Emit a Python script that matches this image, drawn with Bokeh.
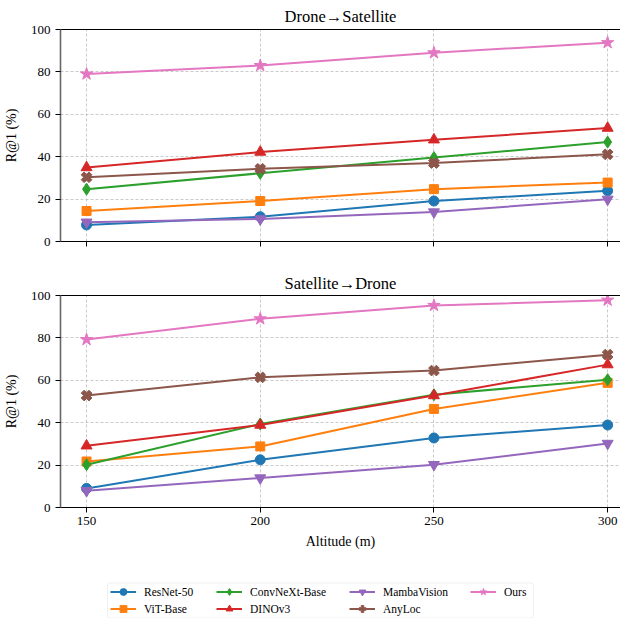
import numpy as np
from bokeh.plotting import figure
from bokeh.models import (Legend, LegendItem, Range1d, BoxAnnotation,
                          LinearAxis, FixedTicker)
from bokeh.layouts import column
from bokeh.embed import file_html
from bokeh.resources import INLINE

# ---------------- data ----------------
altitudes = [150, 200, 250, 300]
methods = ["ResNet-50", "ViT-Base", "ConvNeXt-Base", "DINOv3", "MambaVision", "AnyLoc", "Ours"]
y_ticks = [0, 20, 40, 60, 80, 100]

# Drone -> Satellite, R@1 (%)
d2s_resnet50 = [7.8, 11.7, 19.1, 23.9]
d2s_vit_base = [14.4, 19.1, 24.7, 27.8]
d2s_convnext = [24.7, 32.2, 39.6, 46.9]
d2s_dinov3 = [34.9, 42.2, 48.0, 53.5]
d2s_mambavision = [9.1, 10.6, 13.9, 19.9]
d2s_anyloc = [30.3, 34.3, 37.0, 41.1]
d2s_ours = [79.0, 83.0, 89.0, 93.8]

# Satellite -> Drone, R@1 (%)
s2d_resnet50 = [9.0, 22.5, 32.8, 38.9]
s2d_vit_base = [21.7, 28.8, 46.5, 58.8]
s2d_convnext = [20.2, 39.4, 53.2, 60.3]
s2d_dinov3 = [29.1, 38.9, 52.8, 67.4]
s2d_mambavision = [7.9, 13.9, 20.2, 30.2]
s2d_anyloc = [52.8, 61.4, 64.6, 72.1]
s2d_ours = [79.2, 89.0, 95.3, 97.8]

d2s = [d2s_resnet50, d2s_vit_base, d2s_convnext, d2s_dinov3, d2s_mambavision, d2s_anyloc, d2s_ours]
s2d = [s2d_resnet50, s2d_vit_base, s2d_convnext, s2d_dinov3, s2d_mambavision, s2d_anyloc, s2d_ours]

# ---------------- style ----------------
FONT = "Liberation Serif"
colors = ["#1f77b4", "#ff7f0e", "#2ca02c", "#d62728", "#9467bd", "#8c564b", "#e377c2"]
markers = ["circle", "square", "diamond", "triangle", "inverted_triangle", "plus", "star"]
sizes = [10, 9, 12, 11, 11, 11, 13]
angles = [0, 0, 0, 0, 0, np.pi / 4, 0]


def make_fig(title, series, show_xlabels, top_border, bottom_border, standoff):
    p = figure(frame_width=560, frame_height=212,
               x_range=Range1d(142.5, 303.7), y_range=Range1d(0, 100),
               output_backend="svg", toolbar_location=None,
               min_border_left=54, min_border_right=0,
               min_border_top=top_border, min_border_bottom=bottom_border)
    p.title.text = title
    p.title.align = "center"
    p.title.text_font = FONT
    p.title.text_font_size = "16.5px"
    p.title.text_font_style = "normal"
    p.title.text_color = "black"
    p.title.standoff = standoff
    p.outline_line_color = None
    p.background_fill_color = "white"
    p.border_fill_color = "white"

    bottom = p.below[0]
    left = p.left[0]

    # top spine only (the right spine is cut off in the original)
    top = LinearAxis(ticker=FixedTicker(ticks=[]), axis_line_color="black",
                     axis_line_width=1.2, major_tick_line_color=None,
                     minor_tick_line_color=None, major_label_standoff=0,
                     major_tick_out=0, major_tick_in=0)
    p.add_layout(top, "above")

    for g in (p.xgrid, p.ygrid):
        g.grid_line_color = "#bcbcbc"
        g.grid_line_dash = "3 2"
        g.grid_line_width = 0.8

    bottom.ticker = altitudes
    left.ticker = y_ticks
    for ax in (bottom, left):
        ax.major_tick_out = 5
        ax.major_tick_in = 0
        ax.minor_tick_line_color = None
        ax.major_label_text_font = FONT
        ax.major_label_text_font_size = "13px"
        ax.major_label_text_color = "black"
        ax.axis_label_text_font = FONT
        ax.axis_label_text_font_size = "14px"
        ax.axis_label_text_font_style = "normal"
        ax.axis_label_text_color = "black"
        ax.major_tick_line_color = "black"
    left.axis_line_color = "#666666"
    left.axis_line_width = 1.6
    bottom.axis_line_color = "black"
    bottom.axis_line_width = 1.2
    left.axis_label = "R@1 (%)"
    left.axis_label_standoff = 9
    left.major_label_standoff = 5
    if show_xlabels:
        bottom.axis_label = "Altitude (m)"
        bottom.axis_label_standoff = 6
        bottom.major_label_standoff = 4
    else:
        bottom.major_label_overrides = {a: "" for a in altitudes}
        bottom.major_label_standoff = 0

    for vals, c, m, s, a in zip(series, colors, markers, sizes, angles):
        p.line(altitudes, vals, line_color=c, line_width=2)
        p.scatter(altitudes, vals, marker=m, size=s, angle=a,
                  fill_color=c, line_color=c)
    return p


p1 = make_fig("Drone→Satellite", d2s, False, 22, 20, 8)
p2 = make_fig("Satellite→Drone", s2d, True, 34, 45, 6)

# legend strip (its renderers lie outside its visible range; only the legend shows)
p3 = figure(width=614, height=66, x_range=Range1d(0, 1), y_range=Range1d(0, 1),
            output_backend="svg", toolbar_location=None, min_border=0)
p3.xaxis.visible = False
p3.yaxis.visible = False
p3.xgrid.visible = False
p3.ygrid.visible = False
p3.outline_line_color = None
p3.border_fill_color = "white"
p3.background_fill_color = None

items = []
for name, vals, c, m, s, a in zip(methods, s2d, colors, markers, sizes, angles):
    lr = p3.line(altitudes, vals, line_color=c, line_width=2)
    sr = p3.scatter(altitudes, vals, marker=m, size=s, angle=a, fill_color=c, line_color=c)
    items.append(LegendItem(label=name, renderers=[lr, sr]))

frame_box = BoxAnnotation(left=47, right=473, top=35.5, bottom=0.5,
                          left_units="screen", right_units="screen",
                          top_units="screen", bottom_units="screen",
                          fill_color="white", fill_alpha=0.8,
                          line_color="#cccccc", line_width=1, border_radius=3)
p3.add_layout(frame_box)

col_items = [items[0:2], items[2:4], items[4:6], items[6:7]]
col_x = [50, 156, 289, 410]
col_y = [1, 1, 1, 18]
for its, lx, ly in zip(col_items, col_x, col_y):
    lg = Legend(items=its, orientation="vertical", location=(lx, ly),
                label_text_font=FONT, label_text_font_size="11.5px",
                label_text_color="black",
                glyph_width=26, glyph_height=17, label_height=17,
                label_standoff=8, spacing=0, padding=0, margin=0,
                border_line_color=None, background_fill_alpha=0)
    p3.add_layout(lg, "center")

layout = column(p1, p2, p3, spacing=0)
open("out.html", "w").write(file_html(layout, INLINE))
